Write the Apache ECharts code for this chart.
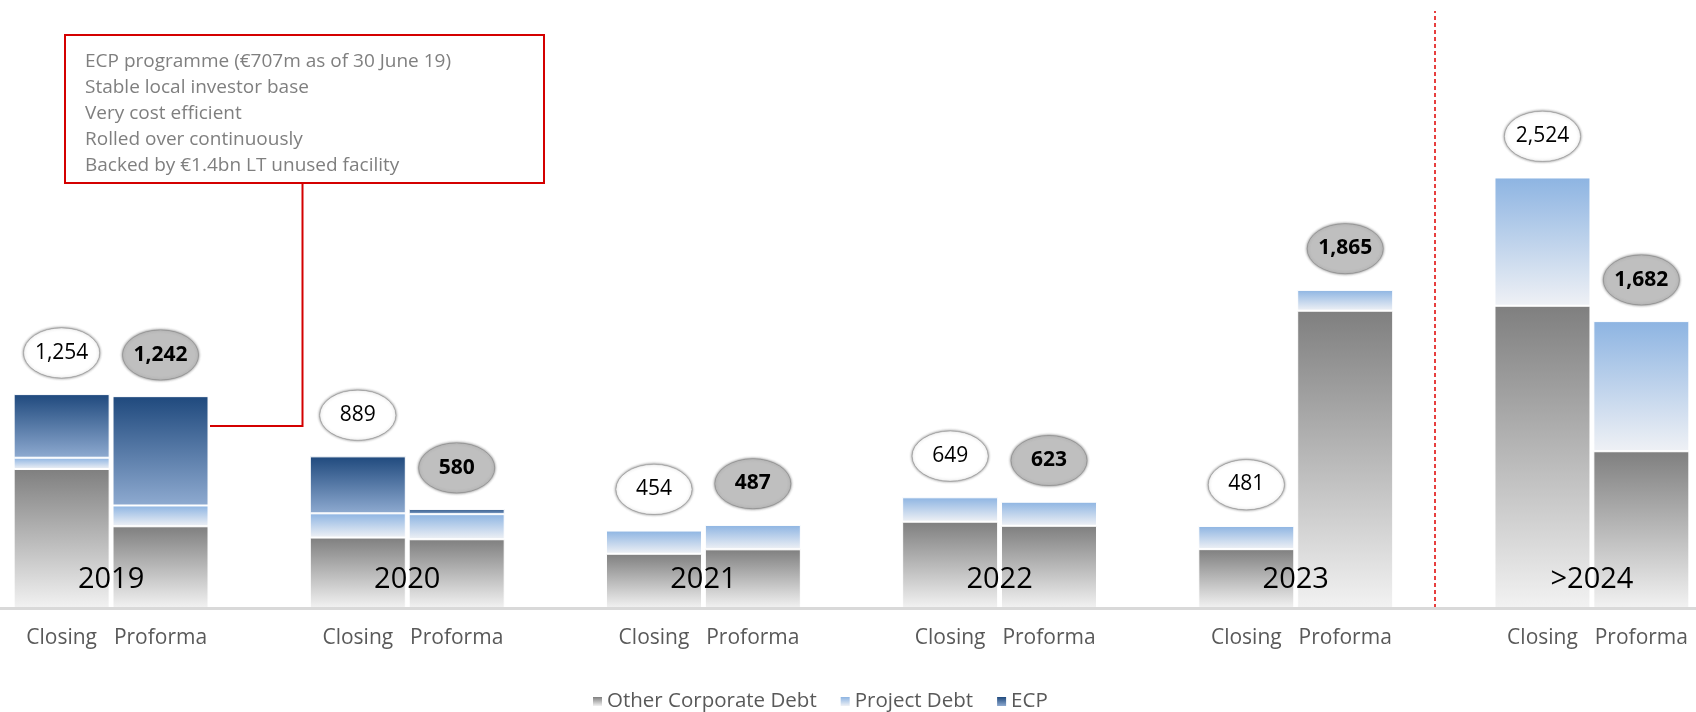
<!DOCTYPE html>
<html>
<head>
<meta charset="utf-8">
<script src="https://cdn.jsdelivr.net/npm/echarts@6/dist/echarts.min.js"></script>
<style>
    html, body {margin: 0; padding: 0; background: #fff;}
    #main {width: 1696px; height: 712px;}
</style>
</head>
<body>
<div id="main"></div>
<script type="text/javascript">
    // data (EUR m)
    var years = ['2019', '2020', '2021', '2022', '2023', '>2024'];
    var barLabels = ['Closing', 'Proforma'];
    var legendNames = ['Other Corporate Debt', 'Project Debt', 'ECP'];

    var otherClosing = [815, 413, 318, 506, 345, 1772];
    var projectClosing = [66, 142, 136, 143, 136, 752];
    var ecpClosing = [373, 334, null, null, null, null];

    var otherProforma = [479, 403, 344, 482, 1743, 919];
    var projectProforma = [122, 147, 143, 141, 122, 763];
    var ecpProforma = [641, 30, null, null, null, null];

    var totalClosing = [1254, 889, 454, 649, 481, 2524];
    var totalProforma = [1242, 580, 487, 623, 1865, 1682];

    var calloutLines = [
        'ECP programme (€707m as of 30 June 19)',
        'Stable local investor base',
        'Very cost efficient',
        'Rolled over continuously',
        'Backed by €1.4bn LT unused facility'
    ];

    var FONT = '"Open Sans", "Liberation Sans", sans-serif';
    var RED = '#d40000';

    function grad(top, bottom) {
        return {
            type: 'linear', x: 0, y: 0, x2: 0, y2: 1,
            colorStops: [{offset: 0, color: top}, {offset: 1, color: bottom}],
            global: false
        };
    }
    var colors = [grad('#7f7f7f', '#f2f2f2'), grad('#8db4e2', '#eff1f5'), grad('#1f497d', '#8eaad0')];

    function fmt(v) {
        return v.toLocaleString('en-US');
    }

    function stackBar(name, stack, data, color, bottomLabel) {
        var s = {
            name: name,
            type: 'bar',
            stack: stack,
            data: data,
            barWidth: 96,
            barGap: '3%',
            itemStyle: {color: color, borderColor: '#fff', borderWidth: 1},
            emphasis: {disabled: true}
        };
        if (bottomLabel) {
            s.label = {
                show: true,
                position: 'bottom',
                distance: 20,
                formatter: function () { return bottomLabel; },
                color: '#595959',
                fontSize: 21,
                fontFamily: FONT
            };
        }
        return s;
    }

    // total in an ellipse above each bar
    function bubble(name, data, fill, bold) {
        return {
            name: name,
            type: 'pictorialBar',
            data: data,
            barWidth: 96,
            barGap: '3%',
            symbol: 'circle',
            symbolSize: [76, 50],
            symbolPosition: 'end',
            symbolOffset: [0, -67],
            itemStyle: {
                color: fill, borderColor: '#6e6e6e', borderWidth: 2,
                shadowBlur: 3, shadowColor: 'rgba(60,60,60,0.9)'
            },
            label: {
                show: true,
                position: 'top',
                distance: -36,
                formatter: function (p) { return fmt(p.value); },
                color: '#000',
                fontSize: 21,
                fontWeight: bold ? 'bold' : 'normal',
                fontFamily: FONT
            },
            z: 5,
            emphasis: {disabled: true}
        };
    }

    var myChart = echarts.init(document.getElementById('main'));
    var option = {
        animation: false,
        grid: {left: -37, right: -44, top: 11, bottom: 104, outerBoundsMode: 'none'},
        legend: {
            data: legendNames,
            left: 588,
            top: 686,
            icon: 'rect',
            itemWidth: 9,
            itemHeight: 9,
            itemGap: 24,
            itemStyle: {borderWidth: 0},
            textStyle: {color: '#595959', fontSize: 20.5, fontFamily: FONT}
        },
        xAxis: [
            {
                type: 'category',
                data: years,
                z: 10,
                axisLine: {lineStyle: {color: '#d9d9d9', width: 3}},
                axisTick: {show: false},
                axisLabel: {inside: true, margin: 14, fontSize: 29, color: '#000', fontFamily: FONT}
            },
            {type: 'value', min: -0.5, max: 5.5, show: false}
        ],
        yAxis: {type: 'value', min: 0, max: 3500, show: false, splitLine: {show: false}},
        graphic: [
            {
                type: 'rect',
                shape: {x: 65, y: 35, width: 479, height: 148},
                style: {fill: '#fff', stroke: RED, lineWidth: 2}
            },
            {
                type: 'text',
                x: 85, y: 49,
                style: {
                    text: calloutLines.join('\n'),
                    fontSize: 19,
                    fontFamily: FONT,
                    lineHeight: 26,
                    fill: '#7f7f7f',
                    verticalAlign: 'top'
                }
            },
            {
                type: 'polyline',
                shape: {points: [[302.5, 184], [302.5, 426], [210, 426]]},
                style: {stroke: RED, lineWidth: 2, fill: null}
            }
        ],
        series: [
            stackBar(legendNames[0], 'closing', otherClosing, colors[0], barLabels[0]),
            stackBar(legendNames[1], 'closing', projectClosing, colors[1]),
            stackBar(legendNames[2], 'closing', ecpClosing, colors[2]),
            stackBar(legendNames[0], 'proforma', otherProforma, colors[0], barLabels[1]),
            stackBar(legendNames[1], 'proforma', projectProforma, colors[1]),
            stackBar(legendNames[2], 'proforma', ecpProforma, colors[2]),
            bubble('Closing total', totalClosing, '#ffffff', false),
            bubble('Proforma total', totalProforma, '#bfbfbf', true),
            {
                // red dashed divider before >2024
                type: 'line',
                xAxisIndex: 1,
                data: [],
                markLine: {
                    silent: true,
                    symbol: 'none',
                    label: {show: false},
                    lineStyle: {color: '#e00000', type: [4, 3], width: 1.5},
                    data: [[{coord: [4.47, 0]}, {coord: [4.47, 3500]}]]
                }
            }
        ]
    };

    myChart.setOption(option);
</script>
</body>
</html>
